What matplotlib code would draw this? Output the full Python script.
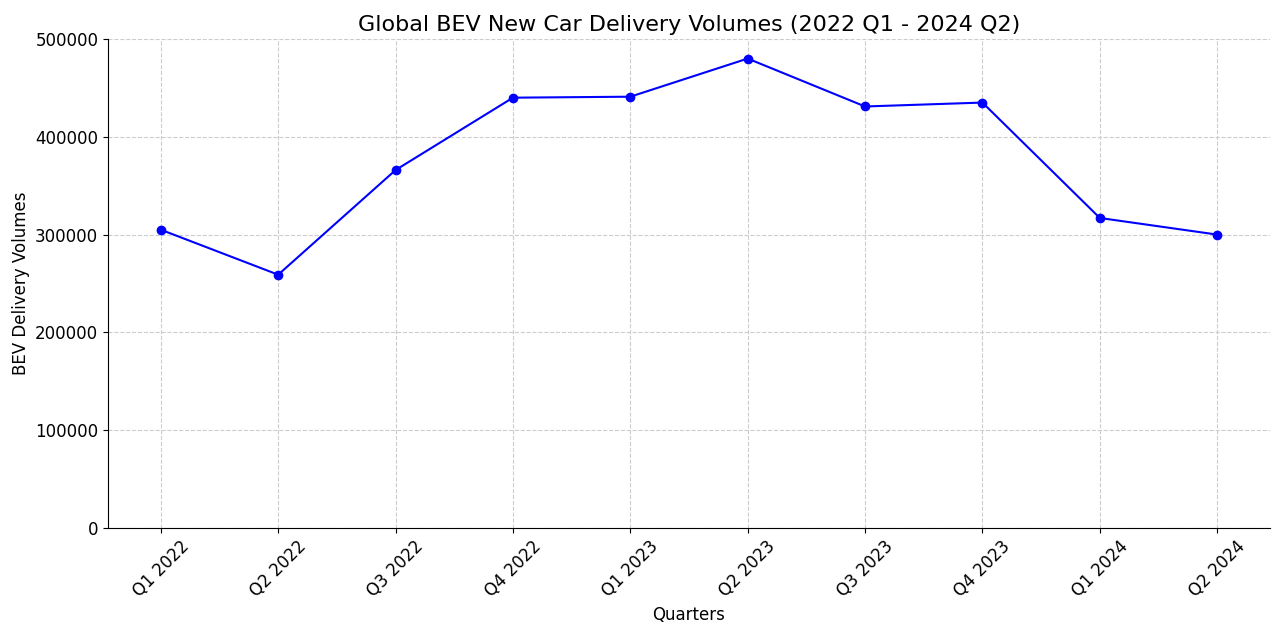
import matplotlib
matplotlib.use("Agg")
import matplotlib.pyplot as plt

quarters = ["Q1 2022", "Q2 2022", "Q3 2022", "Q4 2022", "Q1 2023",
            "Q2 2023", "Q3 2023", "Q4 2023", "Q1 2024", "Q2 2024"]
volumes = [305000, 259000, 366000, 440000, 441000,
           480000, 431000, 435000, 317000, 300000]

fig = plt.figure(figsize=(12.8, 6.35), dpi=100)
ax = fig.add_axes([108/1280, 1-528/635, (1270-108)/1280, (528-39)/635])
ax.plot(quarters, volumes, color="blue", marker="o", markersize=6, linewidth=1.5)
ax.set_ylim(0, 500000)
ax.set_title("Global BEV New Car Delivery Volumes (2022 Q1 - 2024 Q2)", fontsize=16)
ax.set_xlabel("Quarters", fontsize=12)
ax.set_ylabel("BEV Delivery Volumes", fontsize=12)
ax.tick_params(labelsize=12)
plt.setp(ax.get_xticklabels(), rotation=45)
ax.grid(True, linestyle="--", color="#cccccc", linewidth=0.8)
ax.spines["top"].set_visible(False)
ax.spines["right"].set_visible(False)
fig.savefig("out.png", dpi=100)
